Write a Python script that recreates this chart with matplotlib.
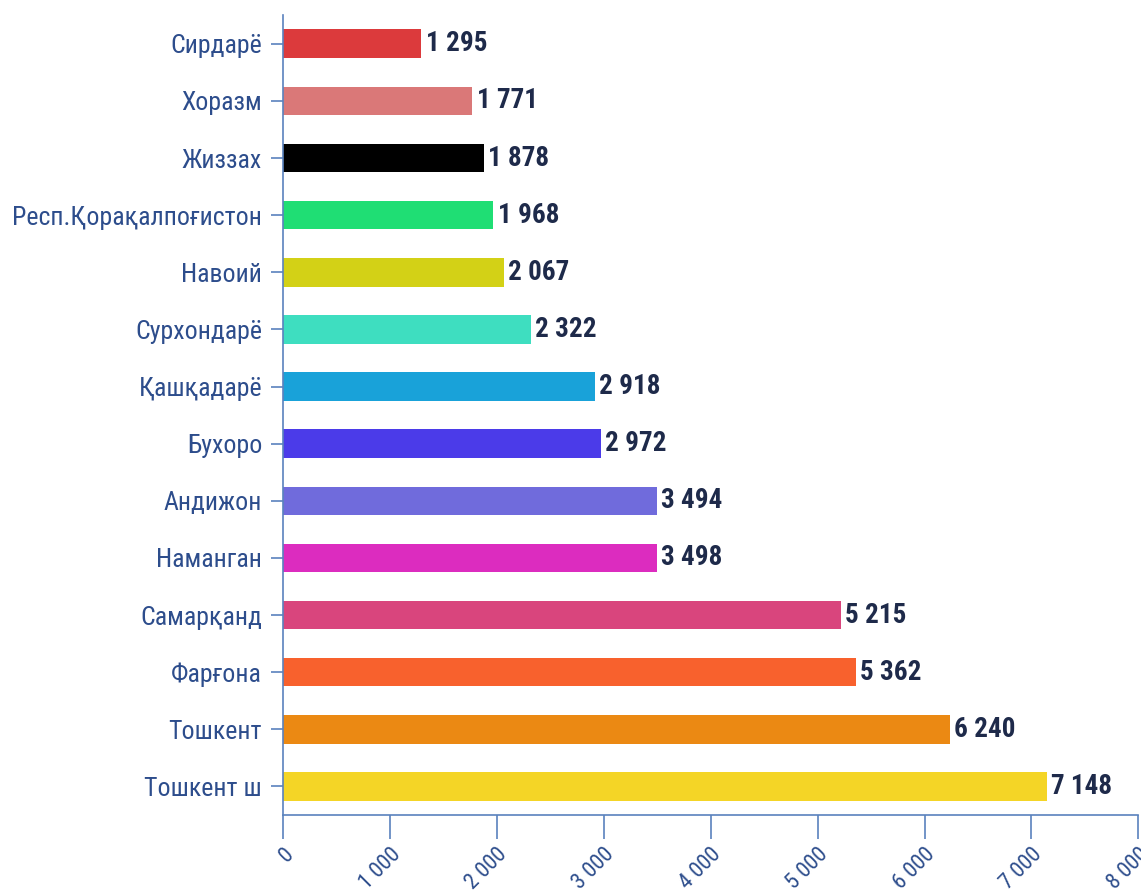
import matplotlib
matplotlib.use("Agg")
import matplotlib.pyplot as plt
from matplotlib.ticker import FuncFormatter

regions = ["Сирдарё", "Хоразм", "Жиззах", "Респ.Қорақалпоғистон", "Навоий",
           "Сурхондарё", "Қашқадарё", "Бухоро", "Андижон", "Наманган",
           "Самарқанд", "Фарғона", "Тошкент", "Тошкент ш"]
values = [1295, 1771, 1878, 1968, 2067, 2322, 2918, 2972, 3494, 3498,
          5215, 5362, 6240, 7148]
colors = ["#dc3a3c", "#da7878", "#000000", "#1fde74", "#d3d116", "#3edec0",
          "#19a2d9", "#4b3be9", "#706bdc", "#dc2cbf", "#d9457d", "#f8612d",
          "#eb8913", "#f4d526"]
xticks = [0, 1000, 2000, 3000, 4000, 5000, 6000, 7000, 8000]

fam = ["Liberation Sans Narrow", "Roboto Condensed", "Liberation Sans", "DejaVu Sans"]
plt.rcParams['font.family'] = fam

fig = plt.figure(figsize=(11.41, 8.93), dpi=100)
ax = fig.add_axes([0.248, 0.0873, 0.7497, 0.8957])

ypos = list(range(len(regions)))
ax.barh(ypos, values, height=0.5, color=colors)
ax.set_ylim(len(regions) - 0.5, -0.5)
ax.set_xlim(0, 8000)
ax.set_yticks(ypos)
ax.set_yticklabels(regions)
ax.set_xticks(xticks)
ax.xaxis.set_major_formatter(FuncFormatter(lambda v, p: f"{int(v):,}".replace(",", " ")))

label_col = "#2d4d8c"
spine_col = "#5a82bd"
for s in ["top", "right"]:
    ax.spines[s].set_visible(False)
for s in ["left", "bottom"]:
    ax.spines[s].set_color(spine_col)
    ax.spines[s].set_linewidth(1.2)

ax.tick_params(axis="y", colors=spine_col, length=9, width=1.2, pad=6,
               labelsize=18.6, labelcolor=label_col)
ax.tick_params(axis="x", colors=spine_col, length=17, width=1.2, pad=4,
               labelsize=16, labelcolor=label_col)
for lab in ax.get_xticklabels():
    lab.set_rotation(45)
    lab.set_ha("right")
    lab.set_va("top")
    lab.set_rotation_mode("anchor")

for y, v in zip(ypos, values):
    ax.annotate(f"{v:,}".replace(",", " "), (v, y), xytext=(3, 0),
                textcoords="offset points", ha="left", va="center",
                fontsize=19.5, fontweight="bold", color="#1e2a4a")

fig.savefig("out.png", dpi=100, facecolor="white")
